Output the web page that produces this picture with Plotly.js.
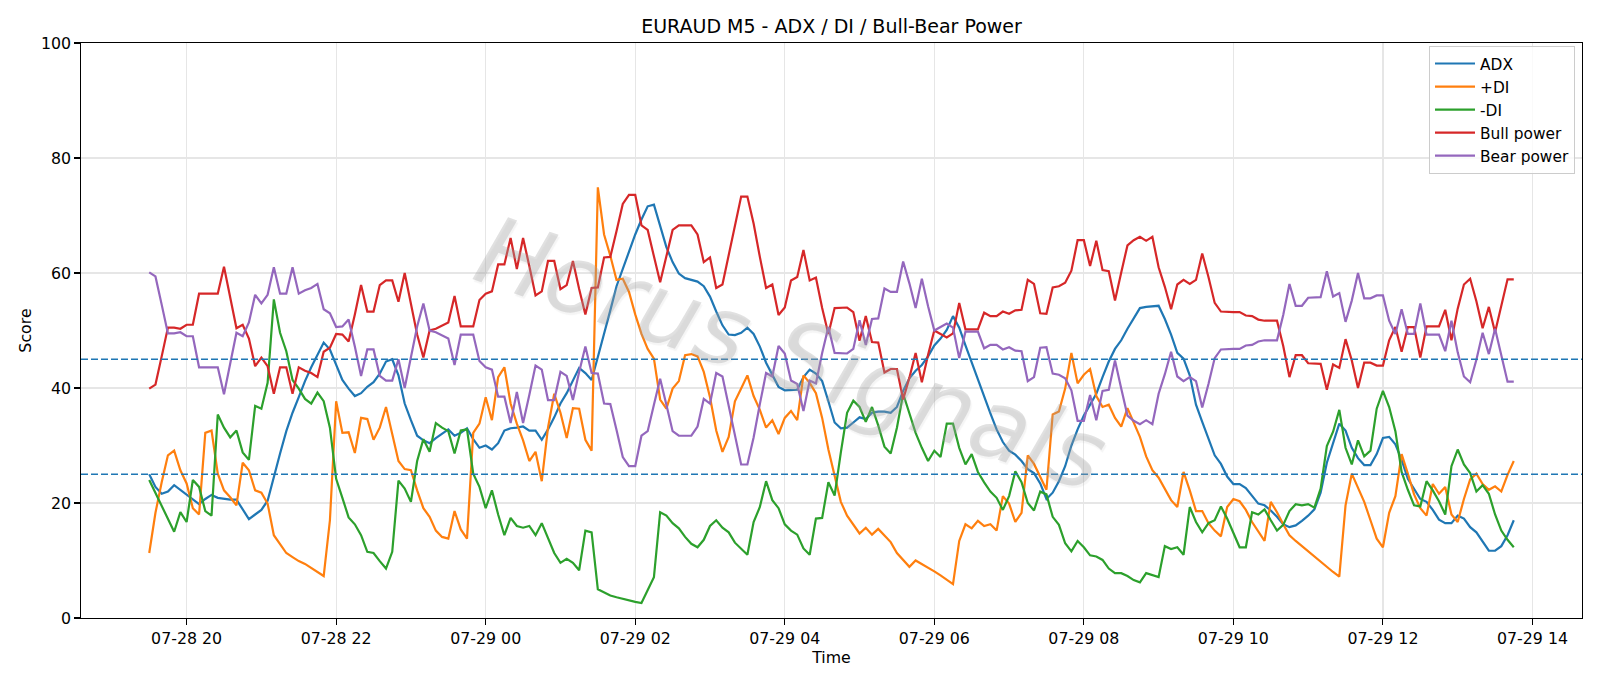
<!DOCTYPE html>
<html>
<head>
<meta charset="utf-8">
<script src="https://cdn.plot.ly/plotly-3.0.1.min.js"></script>
<style>
  html, body { margin: 0; padding: 0; background: #ffffff; }
  #chart { width: 1600px; height: 686px; }
</style>
</head>
<body>
<div id="chart"></div>
<script>
// ---- Data (M5 bars, 07-28 19:30 -> 07-29 13:45) ----
const START_TIME = "2025-07-28T19:30:00Z";
const STEP_MINUTES = 5;

const ADX = [
  25.0, 22.8, 21.6, 22.0, 23.1, 22.3, 21.5, 20.7, 19.8, 20.7,
  21.4, 20.9, 20.7, 20.6, 20.6, 18.9, 17.2, 18.0, 18.8, 20.4,
  24.7, 28.6, 32.5, 35.7, 38.4, 41.2, 43.6, 45.7, 47.9, 46.7,
  43.9, 41.4, 39.9, 38.6, 39.1, 40.2, 41.0, 42.5, 44.6, 45.0,
  42.2, 37.3, 34.4, 31.7, 30.9, 30.4, 31.3, 32.0, 32.8, 31.7,
  32.2, 33.0, 31.1, 29.6, 30.0, 29.3, 30.4, 32.6, 33.0, 33.1,
  33.3, 32.6, 32.6, 31.0, 32.8, 34.9, 37.3, 39.1, 41.4, 43.5,
  42.6, 41.4, 45.4, 49.3, 53.5, 57.7, 60.8, 63.8, 66.7, 69.3,
  71.6, 71.9, 68.0, 64.5, 61.9, 59.9, 59.1, 58.8, 58.5, 57.7,
  55.9, 53.3, 50.9, 49.3, 49.2, 49.6, 50.5, 49.4, 47.2, 44.4,
  42.2, 40.2, 39.6, 39.6, 39.7, 41.9, 43.2, 42.5, 41.2, 37.7,
  34.0, 33.0, 33.1, 34.0, 34.9, 34.6, 35.7, 35.9, 35.9, 35.7,
  36.7, 39.5, 41.7, 43.0, 44.0, 45.5, 47.4, 48.6, 50.1, 52.5,
  50.5, 47.4, 44.4, 41.4, 38.4, 35.6, 32.8, 30.6, 29.1, 28.4,
  27.3, 25.9, 25.2, 23.4, 20.7, 21.8, 23.8, 26.4, 30.0, 32.8,
  35.2, 37.2, 39.0, 41.9, 44.6, 46.8, 48.3, 50.3, 52.2, 53.9,
  54.1, 54.2, 54.3, 52.0, 49.3, 46.1, 45.1, 42.2, 37.1, 34.1,
  31.2, 28.3, 26.8, 24.6, 23.3, 23.3, 22.6, 21.2, 19.9, 19.6,
  18.7, 17.6, 16.3, 15.8, 16.1, 16.9, 17.8, 18.9, 21.8, 27.0,
  30.5, 33.8, 32.6, 29.6, 27.8, 26.6, 26.6, 28.5, 31.3, 31.5,
  30.2, 27.5, 24.2, 22.5, 20.7, 20.2, 18.8, 17.1, 16.5, 16.5,
  17.8, 17.3, 15.8, 14.9, 13.4, 11.7, 11.7, 12.5, 14.4, 17.0
];

const PLUS_DI = [
  11.3, 18.3, 23.6, 28.3, 29.1, 25.7, 23.4, 19.1, 18.0, 32.2,
  32.6, 25.1, 22.2, 21.0, 19.6, 27.0, 25.7, 22.2, 21.8, 19.9,
  14.4, 12.8, 11.3, 10.6, 9.9, 9.4, 8.7, 8.0, 7.3, 17.0,
  37.7, 32.2, 32.3, 28.7, 34.8, 34.6, 31.0, 33.1, 36.7, 32.0,
  27.3, 25.9, 25.7, 22.2, 19.1, 17.6, 15.2, 14.1, 13.8, 18.6,
  15.4, 13.8, 32.2, 33.8, 38.4, 34.4, 41.9, 43.6, 37.3, 33.8,
  30.9, 27.3, 28.9, 23.8, 33.1, 39.0, 35.7, 31.3, 36.5, 36.4,
  31.0, 29.1, 74.9, 66.7, 63.0, 58.8, 59.0, 56.7, 52.8, 49.4,
  46.8, 45.1, 38.0, 36.4, 39.9, 41.2, 45.7, 45.9, 45.5, 42.8,
  38.4, 32.6, 28.9, 31.5, 37.7, 39.9, 42.2, 38.6, 36.2, 33.1,
  34.4, 32.0, 34.8, 36.0, 34.4, 42.2, 40.9, 39.1, 34.8, 29.3,
  25.0, 20.2, 17.8, 16.3, 14.7, 15.7, 14.5, 15.5, 14.4, 13.2,
  11.3, 10.0, 8.9, 10.0, 9.4, 8.7, 8.1, 7.4, 6.7, 5.9,
  13.4, 16.3, 15.6, 16.9, 16.0, 16.3, 15.2, 21.2, 19.9, 16.7,
  18.3, 28.3, 26.8, 24.6, 22.3, 35.4, 35.9, 39.9, 46.1, 40.8,
  42.3, 43.3, 38.6, 36.7, 37.1, 34.8, 33.3, 36.5, 34.1, 31.5,
  28.1, 25.7, 24.4, 22.5, 20.5, 19.3, 25.4, 22.2, 18.6, 18.6,
  16.5, 15.2, 14.2, 19.3, 20.7, 20.3, 18.8, 16.7, 15.1, 13.4,
  20.2, 18.4, 16.3, 14.4, 13.4, 12.5, 11.5, 10.7, 9.7, 8.9,
  8.0, 7.2, 19.6, 25.1, 22.5, 20.2, 17.0, 13.8, 12.3, 18.3,
  21.2, 28.5, 25.1, 21.5, 19.1, 17.8, 23.3, 21.6, 22.8, 18.0,
  16.7, 20.7, 24.1, 25.1, 23.3, 22.3, 22.9, 22.0, 24.9, 27.3
];

const MINUS_DI = [
  24.0, 21.8, 19.6, 17.4, 15.0, 18.4, 16.7, 24.0, 22.8, 18.6,
  17.8, 35.4, 33.1, 31.4, 32.6, 28.8, 27.5, 36.9, 36.4, 40.9,
  55.4, 49.6, 46.4, 41.4, 39.9, 38.1, 37.3, 39.2, 37.7, 33.1,
  24.2, 20.9, 17.5, 16.3, 14.4, 11.5, 11.3, 9.9, 8.6, 11.5,
  23.9, 22.5, 20.2, 27.3, 31.1, 28.9, 33.9, 33.1, 32.5, 28.6,
  32.6, 32.8, 25.1, 22.8, 19.1, 22.2, 18.0, 14.4, 17.4, 16.0,
  15.7, 16.0, 14.4, 16.5, 13.8, 11.3, 9.6, 10.3, 9.6, 8.3,
  15.2, 14.9, 5.0, 4.4, 3.9, 3.6, 3.3, 3.0, 2.8, 2.6,
  4.8, 7.1, 18.4, 17.8, 16.5, 15.6, 14.1, 12.9, 12.3, 13.6,
  16.0, 17.0, 15.7, 14.9, 13.1, 12.1, 11.0, 16.7, 19.3, 23.8,
  20.5, 19.1, 16.3, 15.2, 14.5, 12.1, 11.0, 17.3, 17.4, 23.6,
  21.3, 28.8, 35.7, 37.8, 36.7, 34.1, 36.7, 33.5, 29.8, 28.6,
  33.1, 39.0, 35.4, 32.2, 29.6, 27.3, 29.1, 28.0, 33.8, 33.8,
  29.6, 26.7, 28.5, 25.4, 23.6, 22.0, 20.9, 18.8, 21.2, 25.5,
  23.6, 20.0, 18.7, 22.0, 21.5, 17.6, 16.2, 13.0, 11.6, 13.4,
  12.3, 10.9, 10.7, 10.1, 8.6, 7.8, 7.8, 7.3, 6.6, 6.2,
  7.8, 7.5, 7.1, 12.5, 12.0, 12.3, 11.0, 19.3, 16.7, 14.9,
  16.5, 17.0, 19.4, 17.3, 14.7, 12.3, 12.3, 18.4, 18.0, 18.9,
  17.0, 15.2, 16.2, 18.6, 19.8, 19.6, 19.8, 19.2, 22.5, 29.9,
  32.4, 36.2, 29.6, 26.7, 30.9, 28.1, 29.1, 36.4, 39.5, 36.7,
  32.5, 25.4, 22.3, 19.6, 19.4, 23.8, 22.2, 20.3, 18.0, 26.4,
  29.3, 26.7, 25.2, 22.0, 23.1, 21.6, 18.0, 15.2, 13.6, 12.3
];

const BULL_POWER = [
  39.9, 40.6, 45.5, 50.5, 50.5, 50.3, 51.0, 51.0, 56.4, 56.4,
  56.4, 56.4, 61.1, 55.5, 50.4, 51.0, 48.6, 43.8, 45.3, 43.8,
  39.0, 43.6, 43.6, 39.0, 43.6, 43.0, 42.6, 41.9, 46.3, 47.0,
  49.4, 49.3, 48.1, 52.8, 57.9, 53.3, 53.3, 57.9, 58.7, 58.7,
  55.0, 60.0, 54.5, 49.3, 45.3, 50.0, 50.3, 50.9, 51.4, 56.0,
  50.7, 50.7, 50.7, 55.3, 56.4, 56.8, 61.5, 61.5, 66.1, 60.7,
  66.1, 61.2, 56.1, 56.8, 62.1, 62.1, 57.2, 57.9, 62.1, 57.2,
  52.8, 57.4, 57.5, 62.7, 62.8, 67.3, 72.0, 73.6, 73.6, 68.3,
  67.5, 62.9, 58.4, 62.9, 67.5, 68.3, 68.3, 68.3, 66.7, 61.9,
  62.7, 57.4, 58.0, 62.9, 67.8, 73.3, 73.3, 68.6, 62.8, 57.4,
  58.0, 52.7, 54.0, 58.7, 59.3, 64.0, 58.7, 59.2, 53.9, 49.4,
  53.9, 53.9, 54.0, 53.2, 48.2, 52.5, 48.0, 47.9, 42.7, 43.3,
  43.3, 38.0, 41.8, 46.1, 41.0, 45.8, 50.0, 49.4, 48.8, 49.5,
  54.8, 50.2, 50.2, 50.2, 53.1, 52.5, 52.5, 53.3, 52.9, 53.5,
  53.6, 58.8, 58.1, 53.0, 52.9, 57.5, 57.7, 58.3, 60.4, 65.7,
  65.7, 61.2, 65.6, 60.5, 60.3, 55.2, 60.1, 64.8, 65.7, 66.3,
  65.6, 66.3, 61.0, 57.6, 53.7, 58.0, 58.8, 58.1, 58.8, 63.4,
  59.3, 54.8, 53.3, 53.2, 53.2, 53.2, 52.6, 52.5, 51.9, 51.7,
  51.7, 51.7, 47.3, 41.9, 45.7, 45.7, 44.3, 44.2, 44.2, 39.7,
  44.1, 43.5, 48.5, 44.8, 40.0, 44.4, 44.4, 43.9, 43.9, 48.3,
  50.6, 46.3, 50.6, 50.6, 45.3, 50.7, 50.7, 50.7, 53.6, 48.3,
  53.8, 58.0, 59.0, 55.1, 50.4, 54.1, 49.7, 54.2, 58.9, 58.9
];

const BEAR_POWER = [
  60.1, 59.4, 54.5, 49.5, 49.5, 49.7, 49.0, 49.0, 43.6, 43.6,
  43.6, 43.6, 38.9, 44.5, 49.6, 49.0, 51.4, 56.2, 54.7, 56.2,
  61.0, 56.4, 56.4, 61.0, 56.4, 57.0, 57.4, 58.1, 53.7, 53.0,
  50.6, 50.7, 51.9, 47.2, 42.1, 46.7, 46.7, 42.1, 41.3, 41.3,
  45.0, 40.0, 45.5, 50.7, 54.7, 50.0, 49.7, 49.1, 48.6, 44.0,
  49.3, 49.3, 49.3, 44.7, 43.6, 43.2, 38.5, 38.5, 33.9, 39.3,
  33.9, 38.8, 43.9, 43.2, 37.9, 37.9, 42.8, 42.1, 37.9, 42.8,
  47.2, 42.6, 42.5, 37.3, 37.2, 32.7, 28.0, 26.4, 26.4, 31.7,
  32.5, 37.1, 41.6, 37.1, 32.5, 31.7, 31.7, 31.7, 33.3, 38.1,
  37.3, 42.6, 42.0, 37.1, 32.2, 26.7, 26.7, 31.4, 37.2, 42.6,
  42.0, 47.3, 46.0, 41.3, 40.7, 36.0, 41.3, 40.8, 46.1, 50.6,
  46.1, 46.1, 46.0, 46.8, 51.8, 47.5, 52.0, 52.1, 57.3, 56.7,
  56.7, 62.0, 58.2, 53.9, 59.0, 54.2, 50.0, 50.6, 51.2, 50.5,
  45.2, 49.8, 49.8, 49.8, 46.9, 47.5, 47.5, 46.7, 47.1, 46.5,
  46.4, 41.2, 41.9, 47.0, 47.1, 42.5, 42.3, 41.7, 39.6, 34.3,
  34.3, 38.8, 34.4, 39.5, 39.7, 44.8, 39.9, 35.2, 34.3, 33.7,
  34.4, 33.7, 39.0, 42.4, 46.3, 42.0, 41.2, 41.9, 41.2, 36.6,
  40.7, 45.2, 46.7, 46.8, 46.8, 46.8, 47.4, 47.5, 48.1, 48.3,
  48.3, 48.3, 52.7, 58.1, 54.3, 54.3, 55.7, 55.8, 55.8, 60.3,
  55.9, 56.5, 51.5, 55.2, 60.0, 55.6, 55.6, 56.1, 56.1, 51.7,
  49.4, 53.7, 49.4, 49.4, 54.7, 49.3, 49.3, 49.3, 46.4, 51.7,
  46.2, 42.0, 41.0, 44.9, 49.6, 45.9, 50.3, 45.8, 41.1, 41.1
];

const SERIES_NAMES = ["ADX", "+DI", "-DI", "Bull power", "Bear power"];
const THRESHOLDS = [45, 25];
const Y_TICKS = [0, 20, 40, 60, 80, 100];

// ---- Time axis built from start + fixed step ----
const t0 = Date.parse(START_TIME);
function fmt(ms) {
  const d = new Date(ms);
  const p = n => String(n).padStart(2, "0");
  return d.getUTCFullYear() + "-" + p(d.getUTCMonth() + 1) + "-" + p(d.getUTCDate()) +
         " " + p(d.getUTCHours()) + ":" + p(d.getUTCMinutes()) + ":" + p(d.getUTCSeconds());
}
const TIMES = ADX.map((_, i) => fmt(t0 + i * STEP_MINUTES * 60000));
const spanMs = (ADX.length - 1) * STEP_MINUTES * 60000;
const xRange = [fmt(t0 - 0.05 * spanMs), fmt(t0 + spanMs + 0.05 * spanMs)];

const COLORS = ["#1f77b4", "#ff7f0e", "#2ca02c", "#d62728", "#9467bd"];
const VALUES = [ADX, PLUS_DI, MINUS_DI, BULL_POWER, BEAR_POWER];

const FONT = "DejaVu Sans, Liberation Sans, Arial, sans-serif";

const traces = VALUES.map((v, k) => ({
  type: "scatter",
  mode: "lines",
  x: TIMES,
  y: v,
  name: SERIES_NAMES[k],
  line: { color: COLORS[k], width: 2.2 },
  hoverinfo: "x+y+name"
}));

const shapes = THRESHOLDS.map(t => ({
  type: "line", xref: "paper", x0: 0, x1: 1, yref: "y", y0: t, y1: t,
  line: { color: "#1f77b4", width: 1.6, dash: "7px,3px" },
  layer: "above"
}));

const annotations = [{
  text: "Horus Signals",
  xref: "paper", yref: "paper",
  x: 0.4735, y: 0.4600, xanchor: "center", yanchor: "middle",
  showarrow: false,
  textangle: 19,
  font: { family: FONT, size: 96, color: "rgba(165,165,165,0.33)", style: "italic",
          shadow: "2px 2px 1px rgba(120,120,120,0.22)" }
}];

const lens = VALUES.map(v => v.length);
if (lens.some(l => l !== ADX.length)) {
  annotations.push({ text: "LEN MISMATCH " + lens.join(","), xref: "paper", yref: "paper",
    x: 0.5, y: 0.9, showarrow: false, font: { size: 20, color: "red" } });
}

const layout = {
  width: 1600, height: 686,
  margin: { l: 81, r: 18, t: 43, b: 68, pad: 0 },
  paper_bgcolor: "#ffffff",
  plot_bgcolor: "#ffffff",
  font: { family: FONT, size: 15.8, color: "#000000" },
  title: {
    text: "EURAUD M5 - ADX / DI / Bull-Bear Power",
    font: { family: FONT, size: 19, color: "#000000" },
    xref: "paper", x: 0.5, xanchor: "center",
    yref: "container", y: 1 - 26 / 686, yanchor: "middle"
  },
  xaxis: {
    type: "date",
    range: xRange,
    tick0: "2025-07-28 00:00:00",
    dtick: 2 * 3600 * 1000,
    tickformat: "%m-%d %H",
    ticks: "outside", ticklen: 5.6, tickwidth: 1.1, tickcolor: "#000",
    showline: true, linecolor: "#000", linewidth: 1.1, mirror: true,
    showgrid: true, gridcolor: "#e6e6e6", gridwidth: 1.2,
    zeroline: false,
    tickfont: { family: FONT, size: 15.8, color: "#000" },
    title: { text: "Time", font: { family: FONT, size: 15.8, color: "#000" }, standoff: 4 }
  },
  yaxis: {
    range: [0, 100],
    tickvals: Y_TICKS,
    ticks: "outside", ticklen: 5.6, tickwidth: 1.1, tickcolor: "#000",
    showline: true, linecolor: "#000", linewidth: 1.1, mirror: true,
    showgrid: true, gridcolor: "#e6e6e6", gridwidth: 1.2,
    zeroline: false,
    tickfont: { family: FONT, size: 15.8, color: "#000" },
    title: { text: "Score", font: { family: FONT, size: 15.8, color: "#000" }, standoff: 5 }
  },
  legend: {
    x: (1575 - 81) / 1501, xanchor: "right",
    y: 1 - (46 - 43) / 575, yanchor: "top",
    bgcolor: "rgba(255,255,255,0.8)",
    bordercolor: "#cccccc", borderwidth: 1,
    font: { family: FONT, size: 15.4, color: "#000" },
    tracegroupgap: 0,
    itemwidth: 40
  },
  showlegend: true,
  shapes: shapes,
  annotations: annotations
};

Plotly.newPlot("chart", traces, layout, { displayModeBar: false, staticPlot: true });
</script>
</body>
</html>
